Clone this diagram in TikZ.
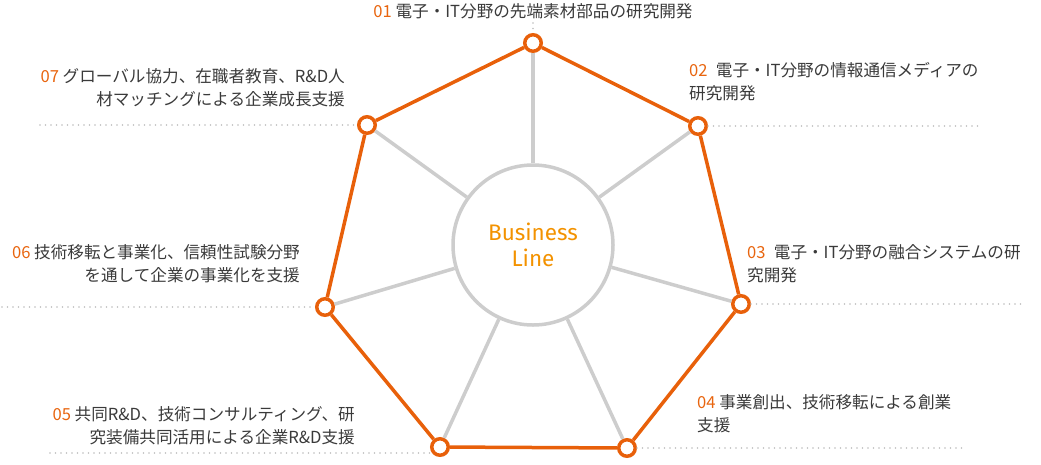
\documentclass[tikz,border=0pt]{standalone}
\usepackage{fontspec}
\setmainfont{Noto Sans CJK JP}
\newfontfamily\blfont{Fira Sans}
\usetikzlibrary{positioning}
\definecolor{hexorange}{HTML}{E8600A}
\definecolor{spokegray}{HTML}{CDCDCD}
\definecolor{dotgray}{HTML}{BDBDBD}
\definecolor{txtgray}{HTML}{3A3A3A}
\definecolor{numorange}{HTML}{E8650F}
\definecolor{blorange}{HTML}{F39200}
\newcommand{\lno}[1]{\textcolor{numorange}{#1}}
\tikzset{
	vtx/.style={circle, draw=hexorange, line width=3.5pt, fill=white, minimum size=16.5pt, inner sep=0pt},
	spoke/.style={draw=spokegray, line width=3.5pt},
	rim/.style={draw=hexorange, line width=3.5pt, line join=round},
	dotline/.style={draw=dotgray, line width=1.6pt, line cap=round, dash pattern=on 0pt off 5.5pt},
	lbl/.style={font=\fontsize{16.6}{23.5}\selectfont, text=txtgray, inner sep=0pt},
}

\begin{document}
\begin{tikzpicture}[x=1pt, y=-1pt]
	\useasboundingbox (0,0) rectangle (1041,464);

	% centre
	\node[circle, draw=spokegray, line width=3.5pt, minimum size=160pt, inner sep=0pt,
		align=center, text=blorange, font=\blfont\fontsize{22.5}{26}\selectfont] (bl) at (533,245) {Business\\Line};

	% vertices
	\node[vtx] (v1) at (533,43) {};
	\node[vtx] (v2) at (698,126) {};
	\node[vtx] (v3) at (741,304) {};
	\node[vtx] (v4) at (627,448) {};
	\node[vtx] (v5) at (440,447) {};
	\node[vtx] (v6) at (325,307) {};
	\node[vtx] (v7) at (367,125) {};

	\foreach \v in {v1,v2,v3,v4,v5,v6,v7}
		\draw[spoke] (bl) -- (\v);
	\draw[rim] (v1) -- (v2) -- (v3) -- (v4) -- (v5) -- (v6) -- (v7) -- (v1);

	% dotted guides
	\coordinate (d1) at (533,23);
	\coordinate (d2) at (980,126);
	\coordinate (d3) at (1025,304);
	\coordinate (d4) at (965,448);
	\coordinate (d5) at (50,453);
	\coordinate (d6) at (2,307);
	\coordinate (d7) at (40,125);
	\draw[dotline] (d1) -- (v1);
	\draw[dotline] (v2) -- (d2);
	\draw[dotline] (v3) -- (d3);
	\draw[dotline] (v4) -- (d4);
	\draw[dotline] (d5) -- (v5.west |- d5);
	\draw[dotline] (d6) -- (v6);
	\draw[dotline] (d7) -- (v7);

	% labels
	\node[lbl, anchor=north] (t1) at (533,3) {\lno{01} 電子・IT分野の先端素材部品の研究開発};
	\node[lbl, anchor=north west, align=left] (t2) at (689,62) {\lno{02}\enspace 電子・IT分野の情報通信メディアの\\研究開発};
	\node[lbl, anchor=north west, align=left] (t3) at (747,244) {\lno{03}\enspace 電子・IT分野の融合システムの研\\究開発};
	\node[lbl, anchor=north west, align=left] (t4) at (697,394) {\lno{04} 事業創出、技術移転による創業\\支援};
	\node[lbl, anchor=north east, align=right] (t5) at (355,406) {\lno{05} 共同R\&D、技術コンサルティング、研\\究装備共同活用による企業R\&D支援};
	\node[lbl, anchor=north east, align=right] (t6) at (300,244) {\lno{06} 技術移転と事業化、信頼性試験分野\\を通して企業の事業化を支援};
	\node[lbl, anchor=north east, align=right] (t7) at (345,68) {\lno{07} グローバル協力、在職者教育、R\&D人\\材マッチングによる企業成長支援};
\end{tikzpicture}
\end{document}
